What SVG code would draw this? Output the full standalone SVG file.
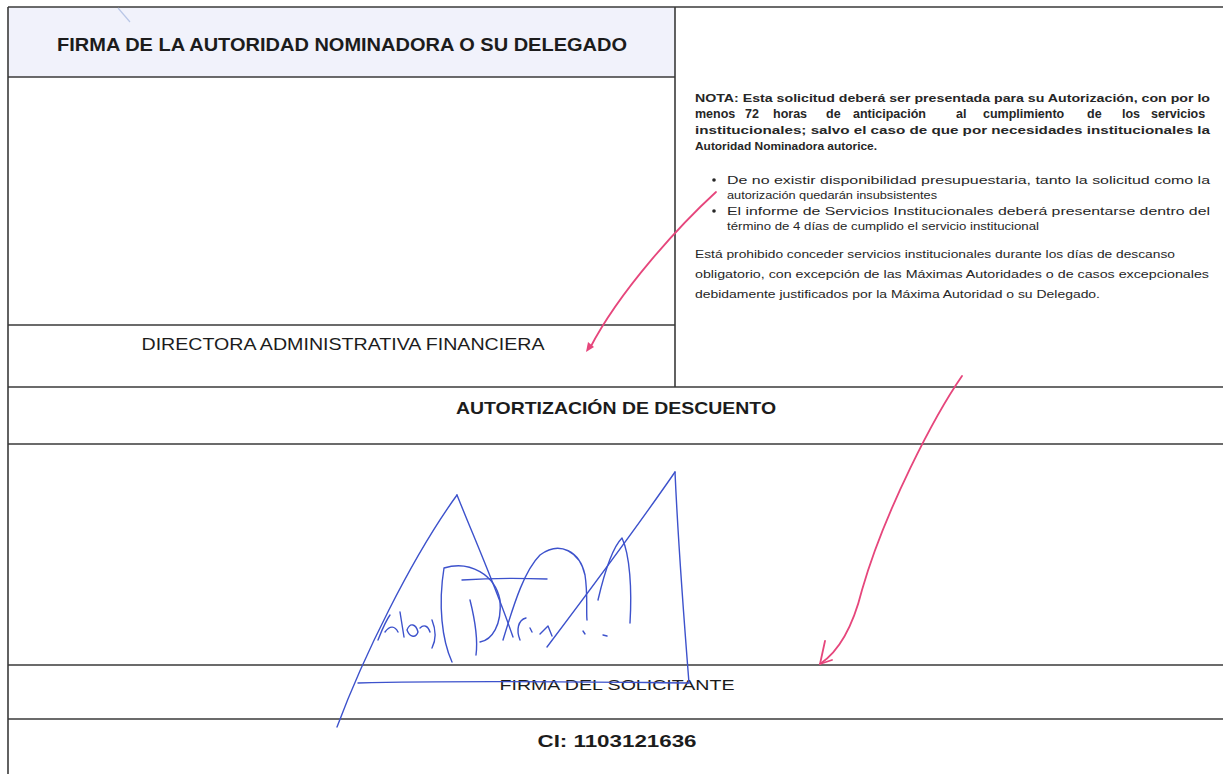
<svg xmlns="http://www.w3.org/2000/svg" width="1223" height="774" viewBox="0 0 1223 774">
<style>
.ln{stroke:#3a3a3a;stroke-width:1.6;fill:none}
.t{font-family:"Liberation Sans",Arial,sans-serif;fill:#1c1c1c}
.b{font-weight:bold}
.n{font-family:"Liberation Sans",Arial,sans-serif;font-size:11.5px;fill:#262626}
.sig{stroke:#3d52cc;stroke-width:1.4;fill:none;stroke-linecap:round;stroke-linejoin:round}
.pk{stroke:#e6467c;stroke-width:1.8;fill:none;stroke-linecap:round;stroke-linejoin:round}
</style>
<rect width="1223" height="774" fill="#ffffff"/>
<g id="header">
<rect x="8" y="7" width="667" height="70" fill="#f1f2fb"/>
<text class="t b" x="342" y="51" font-size="18" text-anchor="middle" textLength="570" lengthAdjust="spacingAndGlyphs">FIRMA DE LA AUTORIDAD NOMINADORA O SU DELEGADO</text>
</g>
<g id="grid">
<line class="ln" x1="8" y1="7" x2="1223" y2="7"/>
<line class="ln" x1="8" y1="7" x2="8" y2="774"/>
<line class="ln" x1="8" y1="77" x2="675" y2="77"/>
<line class="ln" x1="675" y1="7" x2="675" y2="387"/>
<line class="ln" x1="8" y1="325" x2="675" y2="325"/>
<line class="ln" x1="8" y1="387" x2="1223" y2="387"/>
<line class="ln" x1="8" y1="444" x2="1223" y2="444"/>
<line class="ln" x1="8" y1="665" x2="1223" y2="665"/>
<line class="ln" x1="8" y1="719" x2="1223" y2="719"/>
</g>
<g id="labels">
<text class="t" x="343" y="350" font-size="17" text-anchor="middle" textLength="403" lengthAdjust="spacingAndGlyphs">DIRECTORA ADMINISTRATIVA FINANCIERA</text>
<text class="t b" x="616" y="414" font-size="17" text-anchor="middle" textLength="320" lengthAdjust="spacingAndGlyphs">AUTORTIZACIÓN DE DESCUENTO</text>
<text class="t" x="617" y="690" font-size="15.5" text-anchor="middle" textLength="235" lengthAdjust="spacingAndGlyphs">FIRMA DEL SOLICITANTE</text>
<text class="t b" x="617" y="747" font-size="16" text-anchor="middle" textLength="159" lengthAdjust="spacingAndGlyphs">CI: 1103121636</text>
</g>
<g id="nota">
<text class="n b" x="695" y="102" textLength="515" lengthAdjust="spacingAndGlyphs">NOTA: Esta solicitud deberá ser presentada para su Autorización, con por lo</text>
<text class="n b" y="118" style="font-size:12.5px"><tspan x="695">menos</tspan> <tspan x="745">72</tspan> <tspan x="773">horas</tspan> <tspan x="826">de</tspan> <tspan x="853">anticipación</tspan> <tspan x="956">al</tspan> <tspan x="983">cumplimiento</tspan> <tspan x="1087">de</tspan> <tspan x="1122">los</tspan> <tspan x="1151">servicios</tspan></text>
<text class="n b" x="695" y="134" textLength="515" lengthAdjust="spacingAndGlyphs">institucionales; salvo el caso de que por necesidades institucionales la</text>
<text class="n b" x="695" y="150" textLength="182" lengthAdjust="spacingAndGlyphs">Autoridad Nominadora autorice.</text>
<circle cx="714" cy="180" r="1.8" fill="#262626"/>
<text class="n" x="727" y="184" textLength="483" lengthAdjust="spacingAndGlyphs">De no existir disponibilidad presupuestaria, tanto la solicitud como la</text>
<text class="n" x="727" y="199" textLength="210" lengthAdjust="spacingAndGlyphs">autorización quedarán insubsistentes</text>
<circle cx="714" cy="211" r="1.8" fill="#262626"/>
<text class="n" x="727" y="215" textLength="483" lengthAdjust="spacingAndGlyphs">El informe de Servicios Institucionales deberá presentarse dentro del</text>
<text class="n" x="727" y="230" textLength="312" lengthAdjust="spacingAndGlyphs">término  de 4 días de cumplido el servicio institucional</text>
<text class="n" x="695" y="258" textLength="480" lengthAdjust="spacingAndGlyphs">Está prohibido conceder servicios institucionales durante los días de descanso</text>
<text class="n" x="695" y="278" textLength="514" lengthAdjust="spacingAndGlyphs">obligatorio, con excepción de las Máximas Autoridades o de casos excepcionales</text>
<text class="n" x="695" y="298" textLength="405" lengthAdjust="spacingAndGlyphs">debidamente justificados por la Máxima Autoridad o su Delegado.</text>
</g>
<g id="signature">
<path class="sig" d="M337,727 C362,660 410,560 457,495"/>
<path class="sig" d="M457,495 C475,540 495,585 513,637"/>
<path class="sig" d="M358,683 C470,680 590,682 689,683"/>
<path class="sig" d="M547,647 C590,590 635,530 675,472"/>
<path class="sig" d="M675,472 C678,540 684,620 689,683"/>
<path class="sig" d="M452,662 C442,640 438,605 444,568 C470,560 495,575 500,600 C502,625 492,640 480,642"/>
<path class="sig" d="M462,580 C490,578 520,578 547,579"/>
<path class="sig" d="M470,600 C475,620 478,640 476,655"/>
<path class="sig" d="M503,640 C515,600 525,570 540,555 C560,540 580,552 585,575 C588,595 586,610 587,620"/>
<path class="sig" d="M598,600 C605,570 612,548 622,538 C630,555 632,590 630,623"/>
<path class="sig" d="M378,640 C382,630 385,622 390,615 M385,632 C390,625 395,626 398,632 M400,612 L404,637 M407,630 C410,622 416,624 418,632 C416,638 410,638 407,630 M420,628 C424,624 428,626 430,632 M432,620 C436,630 436,640 432,648"/>
<path class="sig" d="M520,640 C516,630 518,620 526,618 M530,628 L532,632 M540,634 L548,626 L552,636"/>
<path class="sig" d="M583,631 L585,634 M603,635 L607,636"/>
</g>
<g id="marks">
<path d="M118,8 L130,22" stroke="#b9c6e6" stroke-width="1.2" fill="none"/>
<path class="pk" d="M716,192 C680,225 620,290 590,348"/>
<path d="M586,352 L588,342 L594,347 Z" fill="#e6467c"/>
<path class="pk" d="M962,376 C935,415 885,510 862,590 C852,630 838,652 820,664"/>
<path class="pk" d="M825,641 L820,664 L832,660"/>
</g>
</svg>
